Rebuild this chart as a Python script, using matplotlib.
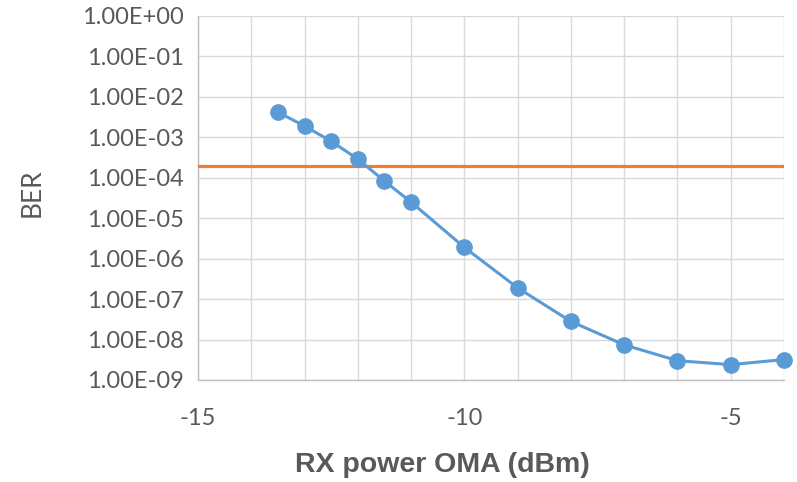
import numpy as np
import matplotlib
matplotlib.use("Agg")
import matplotlib.pyplot as plt
from matplotlib.ticker import FixedLocator, FuncFormatter

# Measured BER versus received optical power
rx_power = [-13.5, -13, -12.5, -12, -11.5, -11, -10, -9, -8, -7, -6, -5, -4]
ber = [4.2e-3, 1.9e-3, 8.0e-4, 2.9e-4, 8.3e-5, 2.5e-5, 1.9e-6, 1.9e-7,
       2.8e-8, 7.4e-9, 3.0e-9, 2.4e-9, 3.2e-9]
fec_limit = 2.0e-4

x_ticks = [-15, -10, -5]
y_ticks = [10.0 ** k for k in range(0, -10, -1)]

grey_text = "#595959"
plt.rcParams["font.family"] = ["Lato", "DejaVu Sans"]

W, H = 797, 482
fig = plt.figure(figsize=(W / 100, H / 100), dpi=100)
ax = fig.add_axes([198 / W, 1 - 380 / H, (784 - 198) / W, (380 - 16) / H])

ax.set_yscale("log")
ax.set_xlim(-15, -4)
ax.set_ylim(1e-9, 1e0)

# Threshold line
ax.axhline(fec_limit, color="#ED7D31", lw=2.3, zorder=3)

# BER curve
ax.plot(rx_power, ber, color="#5B9BD5", lw=2.2, marker="o", markersize=11,
        zorder=4, clip_on=False)

# grid every dB and every decade
ax.xaxis.set_major_locator(FixedLocator(x_ticks))
ax.xaxis.set_minor_locator(FixedLocator(np.arange(-15, -3, 1)))
ax.yaxis.set_major_locator(FixedLocator(y_ticks))
ax.yaxis.set_minor_locator(FixedLocator([]))
ax.grid(True, which="both", axis="x", color="#D9D9D9", lw=1)
ax.grid(True, which="major", axis="y", color="#D9D9D9", lw=1)
ax.set_axisbelow(True)

ax.yaxis.set_major_formatter(FuncFormatter(lambda v, p: "%.2E" % v))
ax.xaxis.set_major_formatter(FuncFormatter(lambda v, p: "%d" % v))

for s in ["top", "right"]:
    ax.spines[s].set_visible(False)
for s in ["left", "bottom"]:
    ax.spines[s].set_color("#BFBFBF")
    ax.spines[s].set_linewidth(1)

ax.tick_params(axis="both", which="both", length=0, colors=grey_text,
               labelsize=17)
ax.tick_params(axis="y", pad=10)
ax.tick_params(axis="x", pad=20)

# axis titles placed in figure pixels
fig.text(32 / W, 1 - 193 / H, "BER", fontsize=19, color=grey_text,
         rotation=90, ha="center", va="center")
fig.text(442 / W, 1 - 472 / H, "RX power OMA (dBm)", fontsize=20.5,
         color=grey_text, fontweight="bold",
         family=["Liberation Sans", "DejaVu Sans"], ha="center", va="baseline")

fig.savefig("out.png", dpi=100)
